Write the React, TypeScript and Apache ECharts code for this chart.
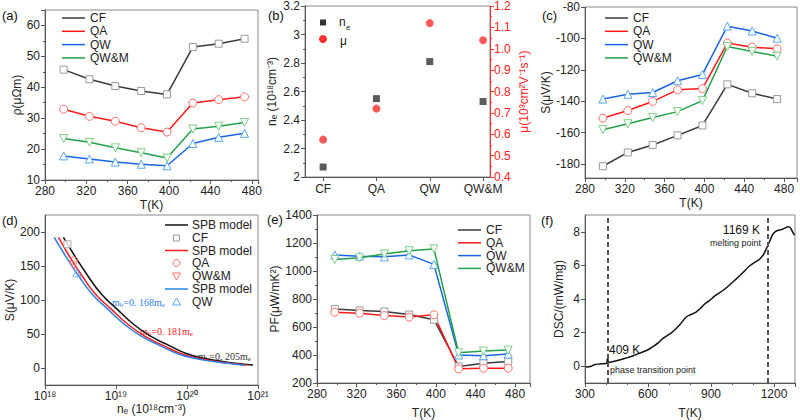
import React, { useEffect, useRef } from 'react';
import * as echarts from 'echarts';

const F = 'Liberation Sans, Arial, Helvetica, sans-serif';

// ---------- shared temperatures ----------
const temps = [298, 323, 348, 373, 398, 423, 448, 473];
const samples = ['CF', 'QA', 'QW', 'QW&M'];

// ---------- (a) resistivity ----------
const rhoCF = [45.7, 42.6, 40.4, 38.8, 37.7, 53.0, 54.1, 55.7];
const rhoQA = [32.9, 30.6, 29.0, 26.9, 25.5, 34.9, 36.0, 36.9];
const rhoQW = [17.8, 16.8, 15.8, 15.1, 14.6, 21.8, 23.8, 25.1];
const rhoQWM = [23.4, 22.2, 20.4, 18.8, 17.1, 26.5, 27.4, 28.6];

// ---------- (b) carrier concentration & mobility ----------
const neVals = [2.07, 2.55, 2.81, 2.53];
const muVals = [0.575, 0.72, 1.12, 1.04];

// ---------- (c) Seebeck ----------
const sCF = [-181.5, -172.7, -168.0, -161.8, -155.5, -129.3, -135.0, -138.7];
const sQA = [-150.9, -146.0, -140.2, -132.8, -132.0, -103.0, -105.6, -106.6];
const sQW = [-138.7, -135.6, -134.5, -127.0, -123.0, -92.2, -95.3, -99.9];
const sQWM = [-158.2, -154.4, -150.4, -146.7, -139.7, -105.2, -108.3, -111.4];

// ---------- (d) Pisarenko / SPB ----------
const spbBlackN = [1.82e18, 2.51e18, 3.98e18, 6.31e18, 1e19, 1.78e19, 3.16e19, 5.62e19, 1e20, 1.78e20, 3.16e20, 5.62e20, 8.5e20];
const spbBlackS = [192, 168, 136, 108, 88, 64, 46, 33, 21, 14, 9.5, 6.3, 4.5];
const spbRedN = [1.55e18, 2.1e18, 3.3e18, 5.2e18, 8.3e18, 1.48e19, 2.62e19, 4.65e19, 8.3e19, 1.48e20, 2.62e20, 4.65e20, 7.0e20];
const spbRedS = [192, 168, 136, 108, 88, 64, 46, 33, 21, 14, 9.5, 6.3, 4.5];
const spbBlueN = [1.35e18, 1.86e18, 2.95e18, 4.67e18, 7.4e18, 1.32e19, 2.34e19, 4.16e19, 7.4e19, 1.32e20, 2.34e20, 4.16e20, 6.5e20];
const spbBlueS = [192, 168, 136, 108, 88, 64, 46, 33, 21, 14, 9.5, 6.3, 4.2];
const pisN = [2.07e18, 2.55e18, 2.53e18, 2.81e18]; // CF, QA, QW&M, QW
const pisS = [182, 158, 151, 140];

// ---------- (e) power factor ----------
const pfCF = [729, 718, 711, 689, 652, 318, 341, 353];
const pfQA = [706, 699, 682, 671, 687, 301, 306, 306];
const pfQW = [1115, 1106, 1101, 1115, 1047, 400, 395, 407];
const pfQWM = [1082, 1094, 1122, 1145, 1158, 416, 428, 435];

// ---------- (f) DSC ----------
const dscT = [305, 330, 347, 370, 395, 403, 406, 408, 410, 413, 418, 450, 497, 530, 560, 600, 624, 650, 671, 695, 718, 750, 782, 800, 829, 850, 870, 892, 920, 955, 990, 1018, 1050, 1082, 1110, 1129, 1150, 1168, 1180, 1192, 1205, 1224, 1240, 1255, 1265, 1271, 1280, 1290, 1298];
const dscV = [-0.05, 0.0, 0.1, 0.13, 0.16, 0.18, 0.35, 0.55, 0.3, 0.22, 0.23, 0.32, 0.49, 0.62, 0.78, 0.98, 1.17, 1.4, 1.66, 1.85, 2.05, 2.45, 2.93, 3.05, 3.22, 3.45, 3.7, 3.9, 4.2, 4.49, 4.85, 5.17, 5.55, 5.95, 6.2, 6.34, 6.65, 7.12, 7.45, 7.8, 8.0, 8.1, 8.15, 8.23, 8.3, 8.29, 8.2, 7.95, 7.8];
const dscMarks = [409, 1169];

// ---------- styles ----------
const LINE: Record<string, string> = { CF: '#3a3a3a', QA: '#ff1a1a', QW: '#1a64e6', 'QW&M': '#22a04a' };
const MARK: Record<string, string> = { CF: '#9a9a9a', QA: '#ff6b6b', QW: '#58a8f0', 'QW&M': '#7ccf8a' };
const SYM: Record<string, string> = { CF: 'rect', QA: 'circle', QW: 'triangle', 'QW&M': 'triangle' };
const ROT: Record<string, number> = { CF: 0, QA: 0, QW: 0, 'QW&M': 180 };
const AX = '#555';

const zip = (xs: number[], ys: number[]) => xs.map((x, i) => [x, ys[i]]);
const plain = (v: number) => String(v);

function common(extra: any = {}) {
  return {
    axisLine: { show: true, onZero: false, lineStyle: { color: AX, width: 1 } },
    axisTick: { show: true, length: 4, lineStyle: { color: AX } },
    minorTick: { show: true, splitNumber: 2, length: 2, lineStyle: { color: AX } },
    axisLabel: { color: '#222', fontSize: 12, fontFamily: F, margin: 5, showMaxLabel: false, formatter: plain },
    splitLine: { show: false },
    nameLocation: 'middle',
    nameTextStyle: { color: '#222', fontSize: 12, fontFamily: F },
    ...extra,
  };
}

function tAxis(gridIndex: number, max: number, gap: number) {
  return {
    type: 'value', gridIndex, min: 280, max, interval: 40,
    name: 'T(K)', nameGap: gap,
    ...common(),
  };
}

function lineSer(name: string, xs: number[], ys: number[], xi: number, yi: number) {
  return {
    type: 'line', name, xAxisIndex: xi, yAxisIndex: yi,
    data: zip(xs, ys),
    symbol: SYM[name], symbolSize: name === 'CF' ? 7 : 8, symbolRotate: ROT[name],
    lineStyle: { color: LINE[name], width: 1.5 },
    itemStyle: { color: '#fff', borderColor: MARK[name], borderWidth: 1 },
    z: 3,
  };
}

function legendLines(x0: number, y0: number, dy: number) {
  const els: any[] = [];
  samples.forEach((n, i) => {
    const y = y0 + i * dy;
    els.push({ type: 'line', shape: { x1: x0, y1: y, x2: x0 + 23, y2: y }, style: { stroke: LINE[n], lineWidth: 1.5 } });
    els.push({ type: 'text', x: x0 + 28, y, style: { text: n, fontSize: 12, fontFamily: F, fill: '#222', verticalAlign: 'middle' } });
  });
  return els;
}

function panelLabel(t: string, x: number, y: number) {
  return { type: 'text', x, y, style: { text: t, fontSize: 13, fontFamily: F, fill: '#111', verticalAlign: 'middle' } };
}

function massText(x: number, y: number, val: string, color: string) {
  return {
    type: 'text', x, y,
    style: {
      text: `{m|m}{s|b}{m|=0. ${val}m}{s|e}`,
      verticalAlign: 'middle',
      rich: {
        m: { fontFamily: 'Liberation Serif, serif', fontSize: 10, fill: color, lineHeight: 12 },
        s: { fontFamily: 'Liberation Serif, serif', fontSize: 7, fill: color, verticalAlign: 'bottom', lineHeight: 12 },
      },
    },
  };
}

export default function App() {
  const ref = useRef<HTMLDivElement>(null);
  useEffect(() => {
    if (!ref.current) return;
    const chart = echarts.init(ref.current, null, { renderer: 'svg' });

    const grids = [
      { left: 45, top: 10, width: 213, height: 170 },
      { left: 305, top: 5, width: 185, height: 172 },
      { left: 585, top: 7, width: 212, height: 171 },
      { left: 45, top: 215, width: 213, height: 170 },
      { left: 317, top: 215, width: 213, height: 170 },
      { left: 585, top: 215, width: 210, height: 170 },
    ].map((g) => ({ ...g, show: true, borderColor: '#888', borderWidth: 1, backgroundColor: 'transparent' }));

    const xAxis: any[] = [
      tAxis(0, 486, 19),
      {
        type: 'value', gridIndex: 1, min: 0.66, max: 4.13,
        ...common({
          minorTick: { show: false },
          axisLabel: { color: '#222', fontSize: 12, fontFamily: F, margin: 6, customValues: [1, 2, 3, 4], formatter: (v: number) => samples[Math.round(v) - 1] },
          axisTick: { show: true, length: 4, lineStyle: { color: AX }, customValues: [1, 2, 3, 4] },
        }),
      },
      tAxis(2, 493, 19),
      {
        type: 'log', gridIndex: 3, logBase: 10, min: 1e18, max: 1e21,
        name: 'nₑ (10¹⁸cm⁻³)', nameGap: 18,
        ...common({
          minorTick: { show: false },
          axisLabel: { color: '#222', fontSize: 12, fontFamily: F, margin: 5, formatter: (v: number) => '10' + ['¹⁸', '¹⁹', '²⁰', '²¹'][Math.round(Math.log10(v)) - 18] },
        }),
      },
      tAxis(4, 495, 24),
      {
        type: 'value', gridIndex: 5, min: 300, max: 1300, interval: 300,
        name: 'T(K)', nameGap: 24,
        ...common({ minorTick: { show: true, splitNumber: 3, length: 2, lineStyle: { color: AX } } }),
      },
    ];

    const yAxis: any[] = [
      { type: 'value', gridIndex: 0, min: 10, max: 65, interval: 10, name: 'ρ(μΩm)', nameGap: 22, ...common() },
      { type: 'value', gridIndex: 1, min: 2, max: 3.2, interval: 0.2, name: 'nₑ (10¹⁸cm⁻³)', nameGap: 27, ...common({ axisLabel: { color: '#222', fontSize: 12, fontFamily: F, margin: 5 } }) },
      {
        type: 'value', gridIndex: 1, position: 'right', min: 0.4, max: 1.2, interval: 0.1,
        name: 'μ(10³cm²V⁻¹s⁻¹)', nameGap: 28, nameRotate: 90,
        ...common({
          axisLine: { show: true, onZero: false, lineStyle: { color: '#ff3333', width: 1 } },
          axisTick: { show: true, length: 4, lineStyle: { color: '#ff3333' } },
          minorTick: { show: true, splitNumber: 2, length: 2, lineStyle: { color: '#ff3333' } },
          axisLabel: { color: '#ff2020', fontSize: 12, fontFamily: F, margin: 4, formatter: (v: number) => v.toFixed(1) },
          nameTextStyle: { color: '#ff2020', fontSize: 12, fontFamily: F },
        }),
      },
      {
        type: 'value', gridIndex: 2, min: -189, max: -80, name: 'S(μV/K)', nameGap: 33,
        ...common({
          minorTick: { show: false },
          axisLabel: { color: '#222', fontSize: 12, fontFamily: F, margin: 5, customValues: [-180, -160, -140, -120, -100, -80], formatter: plain },
          axisTick: { show: true, length: 4, lineStyle: { color: AX }, customValues: [-180, -160, -140, -120, -100, -80] },
        }),
      },
      {
        type: 'value', gridIndex: 3, min: -25, max: 225, name: 'S(μV/K)', nameGap: 23,
        ...common({
          minorTick: { show: false },
          axisLabel: { color: '#222', fontSize: 12, fontFamily: F, margin: 5, customValues: [0, 50, 100, 150, 200], formatter: plain },
          axisTick: { show: true, length: 4, lineStyle: { color: AX }, customValues: [0, 50, 100, 150, 200] },
        }),
      },
      { type: 'value', gridIndex: 4, min: 200, max: 1400, interval: 200, name: 'PF(μW/mK²)', nameGap: 30, ...common({ axisLabel: { color: '#222', fontSize: 12, fontFamily: F, margin: 5, formatter: plain } }) },
      {
        type: 'value', gridIndex: 5, min: -1, max: 9, name: 'DSC/(mW/mg)', nameGap: 20,
        ...common({
          minorTick: { show: false },
          axisLabel: { color: '#222', fontSize: 12, fontFamily: F, margin: 5, customValues: [0, 2, 4, 6, 8], formatter: plain },
          axisTick: { show: true, length: 4, lineStyle: { color: AX }, customValues: [0, 2, 4, 6, 8] },
        }),
      },
    ];

    const series: any[] = [
      lineSer('CF', temps, rhoCF, 0, 0),
      lineSer('QA', temps, rhoQA, 0, 0),
      lineSer('QW', temps, rhoQW, 0, 0),
      lineSer('QW&M', temps, rhoQWM, 0, 0),
      {
        type: 'scatter', name: 'ne', xAxisIndex: 1, yAxisIndex: 1,
        data: neVals.map((v, i) => [i + 1, v]), symbol: 'rect', symbolSize: 7,
        itemStyle: { color: '#333' },
      },
      {
        type: 'scatter', name: 'mu', xAxisIndex: 1, yAxisIndex: 2,
        data: muVals.map((v, i) => [i + 1, v]), symbol: 'circle', symbolSize: 8,
        itemStyle: { color: '#ff3030' },
      },
      lineSer('CF', temps, sCF, 2, 3),
      lineSer('QA', temps, sQA, 2, 3),
      lineSer('QW', temps, sQW, 2, 3),
      lineSer('QW&M', temps, sQWM, 2, 3),
      { type: 'line', name: 'SPB black', xAxisIndex: 3, yAxisIndex: 4, data: zip(spbBlackN, spbBlackS), smooth: true, showSymbol: false, lineStyle: { color: '#111', width: 1.5 } },
      { type: 'line', name: 'SPB red', xAxisIndex: 3, yAxisIndex: 4, data: zip(spbRedN, spbRedS), smooth: true, showSymbol: false, lineStyle: { color: '#ff1a1a', width: 1.5 } },
      { type: 'line', name: 'SPB blue', xAxisIndex: 3, yAxisIndex: 4, data: zip(spbBlueN, spbBlueS), smooth: true, showSymbol: false, lineStyle: { color: '#2a80e8', width: 1.5 } },
      { type: 'scatter', name: 'pCF', xAxisIndex: 3, yAxisIndex: 4, data: [[pisN[0], pisS[0]]], symbol: 'rect', symbolSize: 7, itemStyle: { color: '#fff', borderColor: '#9a9a9a', borderWidth: 1 }, z: 4 },
      { type: 'scatter', name: 'pQA', xAxisIndex: 3, yAxisIndex: 4, data: [[pisN[1], pisS[1]]], symbol: 'circle', symbolSize: 8, itemStyle: { color: 'rgba(255,255,255,0)', borderColor: '#ff6b6b', borderWidth: 1 }, z: 4 },
      { type: 'scatter', name: 'pQWM', xAxisIndex: 3, yAxisIndex: 4, data: [[pisN[2], pisS[2]]], symbol: 'triangle', symbolRotate: 180, symbolSize: 8, itemStyle: { color: 'rgba(255,255,255,0)', borderColor: '#ff6b6b', borderWidth: 1 }, z: 4 },
      { type: 'scatter', name: 'pQW', xAxisIndex: 3, yAxisIndex: 4, data: [[pisN[3], pisS[3]]], symbol: 'triangle', symbolSize: 8, itemStyle: { color: 'rgba(255,255,255,0)', borderColor: '#58a8f0', borderWidth: 1 }, z: 4 },
      lineSer('CF', temps, pfCF, 4, 5),
      lineSer('QA', temps, pfQA, 4, 5),
      lineSer('QW', temps, pfQW, 4, 5),
      lineSer('QW&M', temps, pfQWM, 4, 5),
      {
        type: 'line', name: 'DSC', xAxisIndex: 5, yAxisIndex: 6, data: zip(dscT, dscV), showSymbol: false, smooth: 0.3,
        lineStyle: { color: '#111', width: 1.5 },
        markLine: {
          silent: true, symbol: ['none', 'none'], label: { show: false },
          lineStyle: { color: '#555', type: [5, 3], width: 2 },
          data: dscMarks.map((v) => ({ xAxis: v })),
        },
      },
    ];

    const graphic: any[] = [
      panelLabel('(a)', 2, 15),
      panelLabel('(b)', 268, 15),
      panelLabel('(c)', 542, 15),
      panelLabel('(d)', 2, 220),
      panelLabel('(e)', 267, 219),
      panelLabel('(f)', 541, 220),
      ...legendLines(62, 18, 13.3),
      ...legendLines(605, 18, 13.3),
      ...legendLines(458, 230, 12.8),
      // (b) legend
      { type: 'rect', shape: { x: 320, y: 19.5, width: 6, height: 6 }, style: { fill: '#333' } },
      { type: 'text', x: 339, y: 22, style: { text: 'n', fontSize: 12, fontFamily: F, fill: '#222', verticalAlign: 'middle' } },
      { type: 'text', x: 346, y: 27, style: { text: 'e', fontSize: 8, fontFamily: F, fill: '#222', verticalAlign: 'middle' } },
      { type: 'circle', shape: { cx: 323, cy: 39, r: 4 }, style: { fill: '#ff3030' } },
      { type: 'text', x: 340, y: 41, style: { text: 'μ', fontSize: 12, fontFamily: F, fill: '#222', verticalAlign: 'middle' } },
      // (d) legend
      { type: 'line', shape: { x1: 165, y1: 225, x2: 188, y2: 225 }, style: { stroke: '#111', lineWidth: 1.5 } },
      { type: 'text', x: 192, y: 225, style: { text: 'SPB model', fontSize: 12, fontFamily: F, fill: '#222', verticalAlign: 'middle' } },
      { type: 'rect', shape: { x: 173.5, y: 235, width: 6, height: 6 }, style: { fill: '#fff', stroke: '#9a9a9a', lineWidth: 1 } },
      { type: 'text', x: 192, y: 238, style: { text: 'CF', fontSize: 12, fontFamily: F, fill: '#222', verticalAlign: 'middle' } },
      { type: 'line', shape: { x1: 165, y1: 250.5, x2: 188, y2: 250.5 }, style: { stroke: '#ff1a1a', lineWidth: 1.5 } },
      { type: 'text', x: 192, y: 250.5, style: { text: 'SPB model', fontSize: 12, fontFamily: F, fill: '#222', verticalAlign: 'middle' } },
      { type: 'circle', shape: { cx: 176.5, cy: 263, r: 3.5 }, style: { fill: 'none', stroke: '#ff6b6b', lineWidth: 1 } },
      { type: 'text', x: 192, y: 263, style: { text: 'QA', fontSize: 12, fontFamily: F, fill: '#222', verticalAlign: 'middle' } },
      { type: 'polygon', shape: { points: [[172.5, 273], [180.5, 273], [176.5, 280]] }, style: { fill: 'none', stroke: '#ff6b6b', lineWidth: 1 } },
      { type: 'text', x: 192, y: 276, style: { text: 'QW&M', fontSize: 12, fontFamily: F, fill: '#222', verticalAlign: 'middle' } },
      { type: 'line', shape: { x1: 165, y1: 289, x2: 188, y2: 289 }, style: { stroke: '#2a80e8', lineWidth: 1.5 } },
      { type: 'text', x: 192, y: 289, style: { text: 'SPB model', fontSize: 12, fontFamily: F, fill: '#222', verticalAlign: 'middle' } },
      { type: 'polygon', shape: { points: [[172.5, 305], [180.5, 305], [176.5, 298]] }, style: { fill: 'none', stroke: '#58a8f0', lineWidth: 1 } },
      { type: 'text', x: 192, y: 302, style: { text: 'QW', fontSize: 12, fontFamily: F, fill: '#222', verticalAlign: 'middle' } },
      massText(112, 302, '168', '#2a80e8'),
      massText(140, 331, '181', '#ff2020'),
      massText(198, 356, '205', '#333'),
      // (f) annotations
      { type: 'text', x: 609, y: 350, style: { text: '409 K', fontSize: 12, fontFamily: F, fill: '#111', verticalAlign: 'middle' } },
      { type: 'text', x: 610, y: 370, style: { text: 'phase transition point', fontSize: 9, fontFamily: F, fill: '#222', verticalAlign: 'middle' } },
      { type: 'text', x: 760, y: 230, style: { text: '1169 K', fontSize: 12, fontFamily: F, fill: '#111', align: 'right', verticalAlign: 'middle' } },
      { type: 'text', x: 761, y: 243, style: { text: 'melting point', fontSize: 9, fontFamily: F, fill: '#222', align: 'right', verticalAlign: 'middle' } },
    ];

    chart.setOption({
      animation: false,
      backgroundColor: '#fff',
      textStyle: { fontFamily: F },
      grid: grids,
      xAxis,
      yAxis,
      series,
      graphic,
    });
    return () => chart.dispose();
  }, []);
  return <div ref={ref} style={{ position: 'fixed', left: 0, top: 0, width: 800, height: 420 }} />;
}
